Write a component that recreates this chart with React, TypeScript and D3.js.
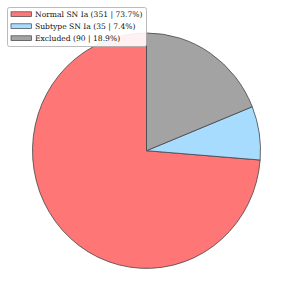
import React from "react";
import * as d3 from "d3";

const categories = ["Normal SN Ia", "Subtype SN Ia", "Excluded"];
const counts = [351, 35, 90];
const colors = ["#ff7676", "#a8dcff", "#a3a3a3"];

const width = 293;
const height = 303;
const cx = 146.5;
const cy = 150.7;
const rx = 114;
const ry = 117.7;

export default function App() {
  const total = d3.sum(counts);
  // matplotlib style: start at the top, go counterclockwise
  const pie = d3
    .pie<number>()
    .sort(null)
    .startAngle(0)
    .endAngle(-2 * Math.PI);
  const arcs = pie(counts);
  const r = 100;
  const arcGen = d3.arc<d3.PieArcDatum<number>>().innerRadius(0).outerRadius(r);

  const labels = categories.map(
    (c, i) => `${c} (${counts[i]} | ${((counts[i] / total) * 100).toFixed(1)}%)`
  );

  return (
    <svg
      width={width}
      height={height}
      style={{ position: "absolute", left: 0, top: 0 }}
    >
      <rect width={width} height={height} fill="#fff" />
      <g transform={`translate(${cx},${cy}) scale(${rx / r},${ry / r})`}>
        {arcs.map((a, i) => (
          <path
            key={i}
            d={arcGen(a) || ""}
            fill={colors[i]}
            stroke="#444"
            strokeWidth={0.8}
            vectorEffect="non-scaling-stroke"
          />
        ))}
      </g>
      <g fontFamily="'DejaVu Serif', serif" fontSize={7.6}>
        <rect
          x={7.5}
          y={7.5}
          width={139}
          height={39}
          rx={2}
          fill="#fff"
          fillOpacity={0.9}
          stroke="#aaa"
          strokeWidth={0.8}
        />
        {labels.map((l, i) => (
          <g key={i} transform={`translate(0,${11.8 + i * 12})`}>
            <rect
              x={11}
              y={0}
              width={20.5}
              height={4.8}
              fill={colors[i]}
              stroke="#444"
              strokeWidth={0.7}
            />
            <text x={35} y={5} fill="#111">
              {l}
            </text>
          </g>
        ))}
      </g>
    </svg>
  );
}
